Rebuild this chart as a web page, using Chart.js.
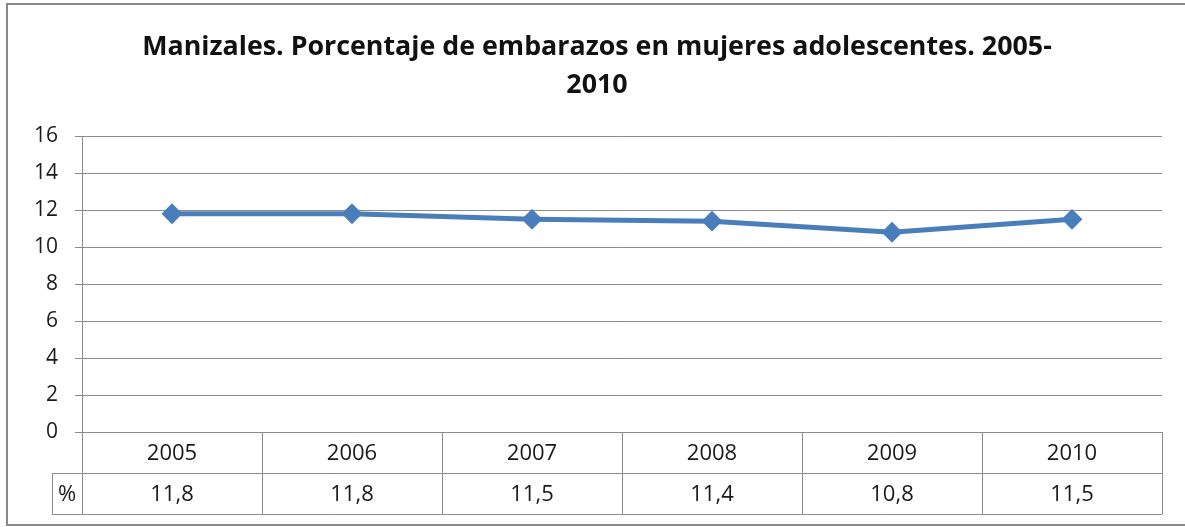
<!DOCTYPE html>
<html>
<head>
<meta charset="utf-8">
<script src="https://cdn.jsdelivr.net/npm/chart.js@4/dist/chart.umd.min.js"></script>
<style>
  html, body { margin: 0; padding: 0; background: #fff; }
  #wrap { width: 1185px; height: 527px; }
</style>
</head>
<body>
<div id="wrap"><canvas id="myChart" width="1185" height="527"></canvas></div>
<script>
// Chart data
var years = ['2005', '2006', '2007', '2008', '2009', '2010'];
var percent = [11.8, 11.8, 11.5, 11.4, 10.8, 11.5];
var yTicks = [0, 2, 4, 6, 8, 10, 12, 14, 16];
var seriesName = '%';
var titleLines = ['Manizales. Porcentaje de embarazos en mujeres adolescentes. 2005-', '2010'];

var gridGray = '#8c8c8c';
var textFont = '"Open Sans", sans-serif';

// Excel-style data table under the x axis + outer frame
var dataTable = {
  id: 'dataTable',
  afterDraw: function(chart) {
    var ctx = chart.ctx;
    var x = chart.scales.x;
    var area = chart.chartArea;
    var colW = x.width / years.length;
    var rowH = 41;
    var top = area.bottom;
    var labelLeft = 52;

    ctx.save();
    ctx.strokeStyle = gridGray;
    ctx.lineWidth = 1;
    ctx.beginPath();
    // horizontal lines
    ctx.moveTo(labelLeft, top + rowH + 0.5);
    ctx.lineTo(area.right, top + rowH + 0.5);
    ctx.moveTo(labelLeft, top + 2 * rowH + 0.5);
    ctx.lineTo(area.right, top + 2 * rowH + 0.5);
    // vertical lines
    for (var i = 0; i <= years.length; i++) {
      var vx = Math.round(area.left + i * colW) + 0.5;
      ctx.moveTo(vx, top);
      ctx.lineTo(vx, top + 2 * rowH);
    }
    ctx.moveTo(labelLeft + 0.5, top + rowH);
    ctx.lineTo(labelLeft + 0.5, top + 2 * rowH);
    ctx.stroke();

    ctx.fillStyle = '#1a1a1a';
    ctx.font = '22px ' + textFont;
    ctx.textAlign = 'center';
    ctx.textBaseline = 'middle';
    years.forEach(function(y, i) {
      var cx = x.getPixelForValue(i);
      ctx.fillText(y, cx, top + rowH / 2 + 1);
      ctx.fillText(percent[i].toFixed(1).replace('.', ','), cx, top + rowH * 1.5 + 1);
    });
    ctx.fillText(seriesName, (labelLeft + area.left) / 2, top + rowH * 1.5 + 1);

    // outer frame
    ctx.strokeStyle = '#888';
    ctx.lineWidth = 2;
    ctx.strokeRect(7, 4, 1200, 521);
    ctx.restore();
  }
};

var ctx = document.getElementById('myChart').getContext('2d');
var myChart = new Chart(ctx, {
  type: 'line',
  data: {
    labels: years,
    datasets: [{
      label: seriesName,
      data: percent,
      borderColor: '#4A7EBB',
      backgroundColor: '#4A7EBB',
      borderWidth: 5,
      pointStyle: 'rectRot',
      pointRadius: 9,
      pointBorderWidth: 2,
      tension: 0
    }]
  },
  options: {
    responsive: false,
    animation: false,
    layout: { padding: { left: 9, right: 0, top: 0, bottom: 95 } },
    scales: {
      x: {
        offset: true,
        afterFit: function(s) { s.height = 0; },
        grid: { display: false },
        border: { display: false },
        ticks: { display: false }
      },
      y: {
        min: 0,
        max: 16,
        afterFit: function(s) { s.width = 73; },
        afterBuildTicks: function(s) { s.ticks = yTicks.map(function(v) { return { value: v }; }); },
        grid: { color: gridGray, tickLength: 7, lineWidth: 1 },
        border: { display: true, color: gridGray, width: 1 },
        ticks: {
          color: '#1a1a1a',
          padding: 17,
          font: { family: textFont, size: 21 }
        }
      },
      // empty spacer on the right so the title centres like the original
      yRight: {
        position: 'right',
        min: 0,
        max: 16,
        afterFit: function(s) { s.width = 23; },
        grid: { display: false },
        border: { display: false },
        ticks: { display: false }
      }
    },
    plugins: {
      legend: { display: false },
      tooltip: { enabled: false },
      title: {
        display: true,
        text: titleLines,
        color: '#111',
        font: { family: textFont, size: 26.8, weight: 'bold', lineHeight: 1.42 },
        padding: { top: 28, bottom: 32 }
      }
    }
  },
  plugins: [dataTable]
});
</script>
</body>
</html>
